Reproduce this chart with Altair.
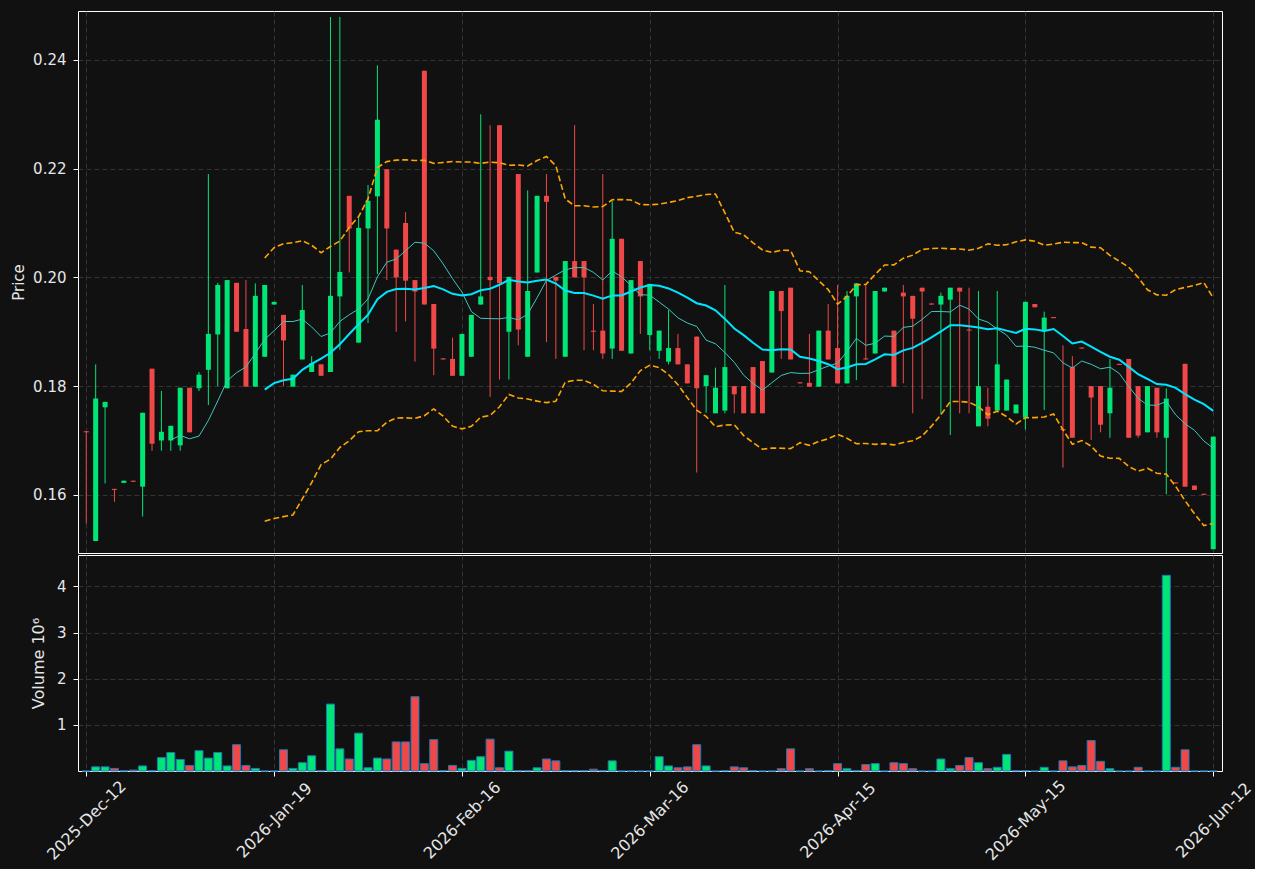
import json
import altair as alt
import pandas as pd

opens = [0.1717, 0.1515, 0.1761, 0.1611, 0.1622, 0.1626, 0.1615, 0.1832, 0.1700, 0.1700,
         0.1691, 0.1797, 0.1796, 0.1830, 0.1895, 0.1796, 0.1990, 0.1905, 0.1799, 0.1854,
         0.1950, 0.1931, 0.1799, 0.1849, 0.1826, 0.1840, 0.1826, 0.1965, 0.2150, 0.1880,
         0.2090, 0.2149, 0.2199, 0.2051, 0.2100, 0.1995, 0.2380, 0.1951, 0.1851, 0.1850,
         0.1819, 0.1854, 0.1950, 0.2001, 0.2280, 0.1900, 0.2190, 0.1854, 0.2009, 0.2150,
         0.2001, 0.1854, 0.2030, 0.2030, 0.1902, 0.1902, 0.1869, 0.2071, 0.1860, 0.2030,
         0.1894, 0.1865, 0.1845, 0.1870, 0.1840, 0.1891, 0.1800, 0.1750, 0.1755, 0.1800,
         0.1800, 0.1835, 0.1846, 0.1825, 0.1975, 0.1981, 0.1807, 0.1806, 0.1799, 0.1902,
         0.1870, 0.1805, 0.1965, 0.1851, 0.1860, 0.1974, 0.1902, 0.1972, 0.1966, 0.1981,
         0.1952, 0.1950, 0.1959, 0.1981, 0.1904, 0.1726, 0.1762, 0.1755, 0.1755, 0.1750,
         0.1742, 0.1951, 0.1901, 0.1927, 0.1721, 0.1835, 0.1871, 0.1800, 0.1800, 0.1750,
         0.1841, 0.1850, 0.1800, 0.1715, 0.1797, 0.1705, 0.1623, 0.1841, 0.1617, 0.1602,
         0.1500]
highs = [0.1717, 0.1840, 0.1771, 0.1611, 0.1626, 0.1626, 0.1751, 0.1832, 0.1791, 0.1727,
         0.1797, 0.1797, 0.1826, 0.2190, 0.1990, 0.1995, 0.1990, 0.1995, 0.1989, 0.1986,
         0.1955, 0.1931, 0.1821, 0.1986, 0.1855, 0.1840, 0.2479, 0.2479, 0.2150, 0.2113,
         0.2170, 0.2390, 0.2199, 0.2051, 0.2120, 0.1995, 0.2380, 0.1951, 0.1851, 0.1889,
         0.1896, 0.1931, 0.2300, 0.2280, 0.2280, 0.2001, 0.2190, 0.2160, 0.2150, 0.2190,
         0.2001, 0.2030, 0.2280, 0.2030, 0.1951, 0.2190, 0.2141, 0.2071, 0.1995, 0.2030,
         0.1988, 0.1902, 0.1940, 0.1896, 0.1840, 0.1891, 0.1820, 0.1834, 0.1986, 0.1800,
         0.1800, 0.1835, 0.1846, 0.1975, 0.1975, 0.1981, 0.1807, 0.1896, 0.1902, 0.1951,
         0.1986, 0.1975, 0.1989, 0.1988, 0.1975, 0.1981, 0.1902, 0.1986, 0.1966, 0.1981,
         0.1952, 0.1972, 0.1981, 0.1981, 0.1981, 0.1975, 0.1797, 0.1975, 0.1812, 0.1766,
         0.1955, 0.1951, 0.1937, 0.1927, 0.1875, 0.1855, 0.1871, 0.1800, 0.1800, 0.1850,
         0.1841, 0.1850, 0.1800, 0.1800, 0.1797, 0.1796, 0.1623, 0.1841, 0.1617, 0.1602,
         0.1707]
lows = [0.1547, 0.1515, 0.1621, 0.1587, 0.1622, 0.1624, 0.1560, 0.1681, 0.1681, 0.1681,
        0.1681, 0.1715, 0.1791, 0.1765, 0.1800, 0.1796, 0.1900, 0.1799, 0.1799, 0.1854,
        0.1950, 0.1800, 0.1799, 0.1849, 0.1826, 0.1819, 0.1826, 0.1867, 0.2009, 0.1880,
        0.1916, 0.2006, 0.1995, 0.1900, 0.1919, 0.1845, 0.1950, 0.1820, 0.1849, 0.1819,
        0.1819, 0.1854, 0.1950, 0.1780, 0.1812, 0.1812, 0.1875, 0.1854, 0.2009, 0.1881,
        0.1850, 0.1854, 0.2000, 0.1866, 0.1866, 0.1850, 0.1850, 0.1865, 0.1860, 0.1896,
        0.1866, 0.1850, 0.1840, 0.1840, 0.1805, 0.1641, 0.1751, 0.1750, 0.1750, 0.1750,
        0.1750, 0.1750, 0.1750, 0.1825, 0.1850, 0.1849, 0.1805, 0.1799, 0.1799, 0.1849,
        0.1805, 0.1805, 0.1811, 0.1849, 0.1860, 0.1974, 0.1799, 0.1805, 0.1750, 0.1776,
        0.1950, 0.1748, 0.1710, 0.1750, 0.1750, 0.1726, 0.1726, 0.1755, 0.1755, 0.1750,
        0.1720, 0.1945, 0.1756, 0.1925, 0.1650, 0.1705, 0.1869, 0.1701, 0.1715, 0.1705,
        0.1839, 0.1705, 0.1705, 0.1715, 0.1705, 0.1601, 0.1621, 0.1615, 0.1609, 0.1600,
        0.1500]
closes = [0.1715, 0.1777, 0.1771, 0.1609, 0.1626, 0.1624, 0.1751, 0.1694, 0.1716, 0.1727,
          0.1797, 0.1715, 0.1821, 0.1896, 0.1986, 0.1995, 0.1900, 0.1799, 0.1966, 0.1986,
          0.1955, 0.1884, 0.1821, 0.1940, 0.1842, 0.1819, 0.1966, 0.2010, 0.2090, 0.2091,
          0.2141, 0.2290, 0.2090, 0.2000, 0.1994, 0.1974, 0.1950, 0.1869, 0.1849, 0.1819,
          0.1896, 0.1931, 0.1965, 0.1995, 0.1989, 0.2001, 0.1904, 0.1975, 0.2150, 0.2139,
          0.1994, 0.2030, 0.2000, 0.2000, 0.1900, 0.1860, 0.2071, 0.1865, 0.1995, 0.1965,
          0.1988, 0.1902, 0.1870, 0.1840, 0.1805, 0.1796, 0.1820, 0.1797, 0.1835, 0.1785,
          0.1750, 0.1750, 0.1750, 0.1975, 0.1938, 0.1849, 0.1805, 0.1799, 0.1902, 0.1849,
          0.1805, 0.1966, 0.1989, 0.1849, 0.1975, 0.1981, 0.1799, 0.1965, 0.1924, 0.1974,
          0.1950, 0.1966, 0.1981, 0.1974, 0.1902, 0.1800, 0.1740, 0.1840, 0.1812, 0.1766,
          0.1955, 0.1945, 0.1926, 0.1925, 0.1719, 0.1705, 0.1869, 0.1779, 0.1729, 0.1797,
          0.1839, 0.1705, 0.1709, 0.1800, 0.1715, 0.1777, 0.1621, 0.1615, 0.1609, 0.1600,
          0.1707]
volumes_m = [0.00, 0.09, 0.09, 0.056, 0.005, 0.02, 0.11, 0.01, 0.29, 0.40,
             0.25, 0.12, 0.44, 0.28, 0.40, 0.11, 0.57, 0.12, 0.056, 0.00,
             0.00, 0.46, 0.056, 0.18, 0.33, 0.01, 1.45, 0.48, 0.26, 0.82,
             0.07, 0.28, 0.26, 0.63, 0.63, 1.61, 0.16, 0.68, 0.01, 0.12,
             0.056, 0.23, 0.31, 0.69, 0.07, 0.43, 0.01, 0.01, 0.07, 0.26,
             0.22, 0.01, 0.01, 0.01, 0.04, 0.01, 0.22, 0.00, 0.00, 0.00,
             0.00, 0.31, 0.11, 0.07, 0.09, 0.57, 0.11, 0.00, 0.01, 0.09,
             0.07, 0.01, 0.00, 0.00, 0.05, 0.48, 0.00, 0.05, 0.00, 0.01,
             0.16, 0.05, 0.01, 0.14, 0.16, 0.00, 0.18, 0.16, 0.05, 0.00,
             0.00, 0.26, 0.05, 0.12, 0.29, 0.18, 0.05, 0.08, 0.36, 0.01,
             0.01, 0.00, 0.08, 0.00, 0.22, 0.09, 0.12, 0.66, 0.21, 0.05,
             0.00, 0.00, 0.08, 0.00, 0.00, 4.24, 0.08, 0.46, 0.00, 0.00,
             0.00]
tick_positions = [0, 20, 40, 60, 80, 100, 120]
tick_labels = ["2025-Dec-12", "2026-Jan-19", "2026-Feb-16", "2026-Mar-16",
               "2026-Apr-15", "2026-May-15", "2026-Jun-12"]
price_ticks = [0.16, 0.18, 0.20, 0.22, 0.24]
volume_ticks = [1, 2, 3, 4]

UP, DOWN = "#00e676", "#f04848"
VUP, VDOWN = "#00fa8a", "#ff4a4a"

df = pd.DataFrame({
    "i": list(range(len(closes))),
    "open": opens, "high": highs, "low": lows, "close": closes, "vol": volumes_m,
})
df["dir"] = ["up" if c >= o else "down" for o, c in zip(opens, closes)]

W = 1144
H_TOP = 542
H_BOT = 216

xscale = alt.Scale(domain=[-0.35, 120.4], nice=False, zero=False)
pscale = alt.Scale(domain=[0.1493, 0.2490], nice=False, zero=False)
vscale = alt.Scale(domain=[0, 4.68], nice=False, zero=False)

x_top = alt.X("i:Q", scale=xscale,
              axis=alt.Axis(values=tick_positions, labels=False, ticks=False,
                            domain=False, grid=True, title=None))
y_axis = alt.Axis(values=price_ticks, format=".2f", title="Price", grid=True,
                  titleX=-60, titleY=H_TOP / 2, titleAngle=270,
                  titleAlign="center", titleBaseline="middle")

color_candle = alt.Color("dir:N", scale=alt.Scale(domain=["up", "down"], range=[UP, DOWN]),
                         legend=None)

base = alt.Chart(df)

wicks = base.mark_rule(strokeWidth=1).encode(
    x=x_top,
    y=alt.Y("low:Q", scale=pscale, axis=y_axis),
    y2="high:Q",
    color=color_candle,
)
bodies = base.mark_bar(size=5).encode(
    x=x_top,
    y=alt.Y("open:Q", scale=pscale, axis=y_axis),
    y2="close:Q",
    color=color_candle,
)

sma10 = base.transform_window(
    sma10="mean(close)", n10="count()", frame=[-9, 0], sort=[alt.SortField("i")]
).transform_filter("datum.n10 == 10").mark_line(color="#3fc7bf", strokeWidth=1).encode(
    x=x_top, y=alt.Y("sma10:Q", scale=pscale, axis=y_axis)
)

boll = base.transform_window(
    ma="mean(close)", sd="stdevp(close)", n20="count()", frame=[-19, 0],
    sort=[alt.SortField("i")]
).transform_filter("datum.n20 == 20").transform_calculate(
    upper="datum.ma + 2 * datum.sd", lower="datum.ma - 2 * datum.sd"
)
ma20 = boll.mark_line(color="#00e5ff", strokeWidth=2).encode(
    x=x_top, y=alt.Y("ma:Q", scale=pscale, axis=y_axis)
)
upper = boll.mark_line(color="#ffa500", strokeWidth=1.6, strokeDash=[6, 3]).encode(
    x=x_top, y=alt.Y("upper:Q", scale=pscale, axis=y_axis)
)
lower = boll.mark_line(color="#ffa500", strokeWidth=1.6, strokeDash=[6, 3]).encode(
    x=x_top, y=alt.Y("lower:Q", scale=pscale, axis=y_axis)
)

top = alt.layer(wicks, bodies, sma10, ma20, upper, lower).properties(width=W, height=H_TOP)

label_expr = json.dumps(tick_labels) + "[round(datum.value / 20)]"
x_bot = alt.X("i:Q", scale=xscale,
              axis=alt.Axis(values=tick_positions, labelExpr=label_expr, grid=True,
                            title=None, labelAngle=315, labelAlign="center",
                            labelBaseline="middle", labelPadding=44, ticks=True,
                            tickSize=5, labelFontSize=16))
vol = base.mark_bar(size=8, stroke="#1f77b4", strokeWidth=1).encode(
    x=x_bot,
    y=alt.Y("vol:Q", scale=vscale,
            axis=alt.Axis(values=volume_ticks, format="d", title="Volume  10⁶", grid=True,
                          titleX=-40, titleY=H_BOT / 2, titleAngle=270,
                          titleAlign="center", titleBaseline="middle",
                          titleFontSize=16)),
    color=alt.Color("dir:N", scale=alt.Scale(domain=["up", "down"], range=[VUP, VDOWN]),
                    legend=None),
).properties(width=W, height=H_BOT)

chart = alt.vconcat(top, vol, spacing=0).properties(
    background="#111111",
    padding={"left": 10, "top": 10, "right": 0, "bottom": 5},
).configure_view(
    stroke="#ffffff", strokeWidth=1, fill="#111111"
).configure_axis(
    domain=False,
    gridColor="#3c3c3c", gridDash=[5, 3], gridWidth=0.8,
    tickColor="#ffffff", tickSize=5, tickWidth=1,
    labelColor="#e6e6e6", titleColor="#e6e6e6",
    labelFont="DejaVu Sans", titleFont="DejaVu Sans",
    labelFontSize=15, titleFontSize=15, titleFontWeight="normal",
    labelPadding=7,
)

chart.save("out.html", embed_options={"renderer": "svg", "actions": False})
